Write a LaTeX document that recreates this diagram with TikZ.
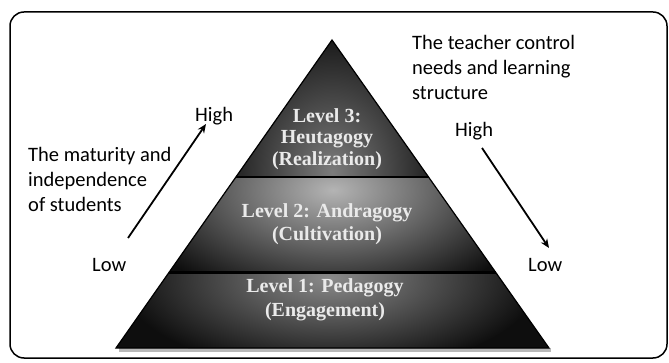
\documentclass[tikz,border=0pt]{standalone}
\usepackage{fontspec}
\setmainfont{Carlito}
\newfontfamily\lvlfont{Liberation Serif}
\usetikzlibrary{calc,arrows.meta}
\definecolor{lthree}{HTML}{7C7C7C}
\definecolor{ltwo}{HTML}{B4B4B4}
\definecolor{lone}{HTML}{8A8A8A}
\definecolor{dk}{HTML}{0E0E0E}
\definecolor{lvltxt}{HTML}{EAEAEA}
\begin{document}
\begin{tikzpicture}[x=1pt,y=-1pt,
  sidetext/.style={font=\fontsize{20.5}{25}\selectfont, inner sep=0pt, align=left, anchor=base west},
  lvltext/.style={font=\lvlfont\bfseries\fontsize{20}{23}\selectfont, text=lvltxt, align=center, inner sep=0pt},
  arr/.style={-{Stealth[length=9pt,width=7.5pt]}, line width=1.8pt},
  sep/.style={line width=2.8pt, black},
  frame/.style={line width=1.5pt, rounded corners=14pt}]
\useasboundingbox (0,0) rectangle (669,363);
\draw[frame] (10,12) rectangle (667,358);
% pyramid geometry
\coordinate (apex) at (332,40);
\coordinate (bl) at (116,348);
\coordinate (br) at (549,348);
\coordinate (l1) at ($(apex)!0.445!(bl)$);
\coordinate (r1) at ($(apex)!0.445!(br)$);
\coordinate (l2) at ($(apex)!0.756!(bl)$);
\coordinate (r2) at ($(apex)!0.756!(br)$);
% shadow
\fill[gray!55] ($(bl)+(3,0)$) -- ($(br)+(2,0)$) -- ($(br)+(2,4)$) -- ($(bl)+(3,4)$) -- cycle;
% level 3
\begin{scope}
  \clip (apex) -- (r1) -- (l1) -- cycle;
  \fill[dk] (apex) -- (r1) -- (l1) -- cycle;
  \shade[inner color=lthree, outer color=dk] (332,172) ellipse (120 and 150);
\end{scope}
% level 2
\begin{scope}
  \clip (l1) -- (r1) -- (r2) -- (l2) -- cycle;
  \fill[dk] (l1) -- (r1) -- (r2) -- (l2) -- cycle;
  \shade[inner color=ltwo, outer color=dk] (333,190) ellipse (210 and 115);
\end{scope}
% level 1
\begin{scope}
  \clip (l2) -- (r2) -- (br) -- (bl) -- cycle;
  \fill[dk] (l2) -- (r2) -- (br) -- (bl) -- cycle;
  \shade[inner color=lone, outer color=dk] (330,278) ellipse (210 and 95);
\end{scope}
\draw[line width=1.2pt, line join=miter] (apex) -- (br) -- (bl) -- cycle;
\draw[sep] (l1) -- (r1);
\draw[sep] (l2) -- (r2);
% level texts
\node[lvltext, font=\lvlfont\bfseries\fontsize{20}{21.5}\selectfont] (lv3) at (327,139) {Level 3:\\Heutagogy\\(Realization)};
\node[lvltext] (lv2) at (327,224) {Level 2: Andragogy\\(Cultivation)};
\node[lvltext, font=\lvlfont\bfseries\fontsize{20}{24.5}\selectfont] (lv1) at (325,300) {Level 1: Pedagogy\\(Engagement)};
% side texts (base anchor = last line baseline)
\node[sidetext] (hiL) at (195,122) {High};
\node[sidetext] (loL) at (92,272) {Low};
\node[sidetext] (matur) at (28,212) {The maturity and\\independence\\of students};
\node[sidetext] (teach) at (412,100) {The teacher control\\needs and learning\\structure};
\node[sidetext] (hiR) at (455,137) {High};
\node[sidetext] (loR) at (528,272) {Low};
% arrows
\coordinate (la1) at (128,238);
\coordinate (la2) at (206,124);
\coordinate (ra1) at (482,148);
\coordinate (ra2) at (549,248);
\draw[arr] (la1) -- (la2);
\draw[arr] (ra1) -- (ra2);
\end{tikzpicture}
\end{document}
